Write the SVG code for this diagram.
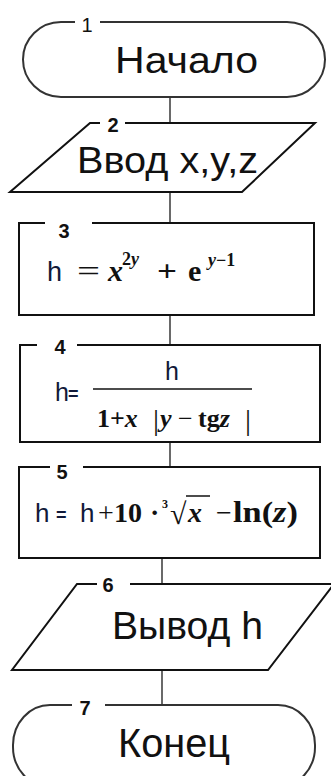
<svg xmlns="http://www.w3.org/2000/svg" width="331" height="776" viewBox="0 0 331 776">
<style>
.shape{fill:#fff;stroke:#111;stroke-width:2}
.term{fill:#fff;stroke:#333;stroke-width:2}
.conn{stroke:#444;stroke-width:1.6;fill:none}
.gap{fill:#fff;stroke:none}
.lbl{font-family:"Liberation Sans",Arial,sans-serif;font-size:20px;font-weight:bold;fill:#111;text-anchor:middle}
.big{font-family:"Liberation Sans",Arial,sans-serif;font-size:36px;fill:#111}
.hs{font-family:"Liberation Sans",Arial,sans-serif;fill:#111a3a}
.m{font-family:"Liberation Serif","Times New Roman",serif;font-weight:bold;fill:#111}
.i{font-style:italic}
</style>
<rect width="331" height="776" fill="#fff"/>
<g id="connectors">
<line class="conn" x1="170" y1="97" x2="170" y2="123"/>
<line class="conn" x1="170" y1="192" x2="170" y2="223"/>
<line class="conn" x1="170" y1="315" x2="170" y2="345"/>
<line class="conn" x1="170" y1="442" x2="170" y2="467"/>
<line class="conn" x1="162" y1="558" x2="162" y2="584"/>
<line class="conn" x1="162" y1="670" x2="162" y2="705"/>
</g>
<g id="node1">
<rect class="term" x="23" y="22" width="302" height="75" rx="38" ry="37.5"/>
<rect class="gap" x="75" y="15" width="25" height="12"/>
<text class="lbl" x="87" y="32" style="font-weight:normal">1</text>
<text class="big" x="115" y="73" textLength="143" lengthAdjust="spacingAndGlyphs">Начало</text>
</g>
<g id="node2">
<polygon class="shape" points="90,123 315,123 242,192 10,192"/>
<rect class="gap" x="100" y="116" width="25" height="12"/>
<text class="lbl" x="113" y="132">2</text>
<text class="big" x="77" y="173" textLength="181" lengthAdjust="spacingAndGlyphs">Ввод x,y,z</text>
</g>
<g id="node3">
<rect class="shape" x="19" y="223" width="295" height="92"/>
<rect class="gap" x="45" y="218" width="47" height="10"/>
<text class="lbl" x="64" y="238">3</text>
<text class="hs" x="47" y="281" font-size="27">h</text>
<text class="m" x="77" y="281" font-size="30" textLength="23" lengthAdjust="spacingAndGlyphs" style="font-weight:normal">=</text>
<text class="m i" x="108" y="281" font-size="30">x</text>
<text class="m" x="122" y="265" font-size="18">2<tspan class="i">y</tspan></text>
<text class="m" x="157" y="281" font-size="30" textLength="20" lengthAdjust="spacingAndGlyphs">+</text>
<text class="m" x="188" y="281" font-size="30">e</text>
<text class="m" x="208" y="266" font-size="18"><tspan class="i">y</tspan>−1</text>
</g>
<g id="node4">
<rect class="shape" x="20" y="345" width="300" height="97"/>
<rect class="gap" x="37" y="340" width="40" height="10"/>
<text class="lbl" x="60" y="354">4</text>
<text class="hs" x="55" y="401" font-size="25">h</text>
<text class="hs" x="68" y="400" font-size="18" font-weight="bold">=</text>
<line x1="93" y1="389" x2="252" y2="389" stroke="#111" stroke-width="1.5"/>
<text class="hs" x="165" y="380" font-size="25">h</text>
<text class="m" x="97" y="427" font-size="26">1+<tspan class="i">x</tspan></text>
<text class="m" x="153" y="430" font-size="30" style="font-weight:normal">|</text>
<text class="m i" x="160" y="427" font-size="26">y</text>
<text class="m" x="178" y="427" font-size="26" style="font-weight:normal">−</text>
<text class="m" x="198" y="427" font-size="26">tg<tspan class="i">z</tspan></text>
<text class="m" x="245" y="430" font-size="30" style="font-weight:normal">|</text>
</g>
<g id="node5">
<rect class="shape" x="19" y="467" width="301" height="91"/>
<rect class="gap" x="50" y="462" width="33" height="10"/>
<text class="lbl" x="62" y="479">5</text>
<text class="hs" x="35" y="522" font-size="26">h</text>
<text class="hs" x="56" y="521" font-size="18" font-weight="bold">=</text>
<text class="hs" x="80" y="522" font-size="26">h</text>
<text class="m" x="98" y="522" font-size="28" style="font-weight:normal">+</text>
<text class="m" x="114" y="522" font-size="28">10</text>
<text class="m" x="150" y="522" font-size="28">·</text>
<text class="m" x="162" y="508" font-size="12">3</text>
<text class="m" x="170" y="524" font-size="30" style="font-weight:normal">√</text>
<line x1="186" y1="496" x2="210" y2="496" stroke="#111" stroke-width="1.5"/>
<text class="m i" x="188" y="522" font-size="28">x</text>
<text class="m" x="216" y="522" font-size="28" style="font-weight:normal">−</text>
<text class="m" x="233" y="522" font-size="30" textLength="65" lengthAdjust="spacingAndGlyphs">ln(<tspan class="i">z</tspan>)</text>
</g>
<g id="node6">
<polygon class="shape" points="77,584 334,584 268,670 12,670"/>
<rect class="gap" x="97" y="578" width="33" height="11"/>
<text class="lbl" x="108" y="592">6</text>
<text class="big" x="112" y="639" style="font-size:39px" textLength="151" lengthAdjust="spacingAndGlyphs">Вывод h</text>
</g>
<g id="node7">
<rect class="term" x="13" y="705" width="302" height="82" rx="37" ry="40"/>
<rect class="gap" x="72" y="699" width="33" height="11"/>
<text class="lbl" x="85" y="715">7</text>
<text class="big" x="118" y="757" style="font-size:40px" textLength="112" lengthAdjust="spacingAndGlyphs">Конец</text>
</g>
</svg>
